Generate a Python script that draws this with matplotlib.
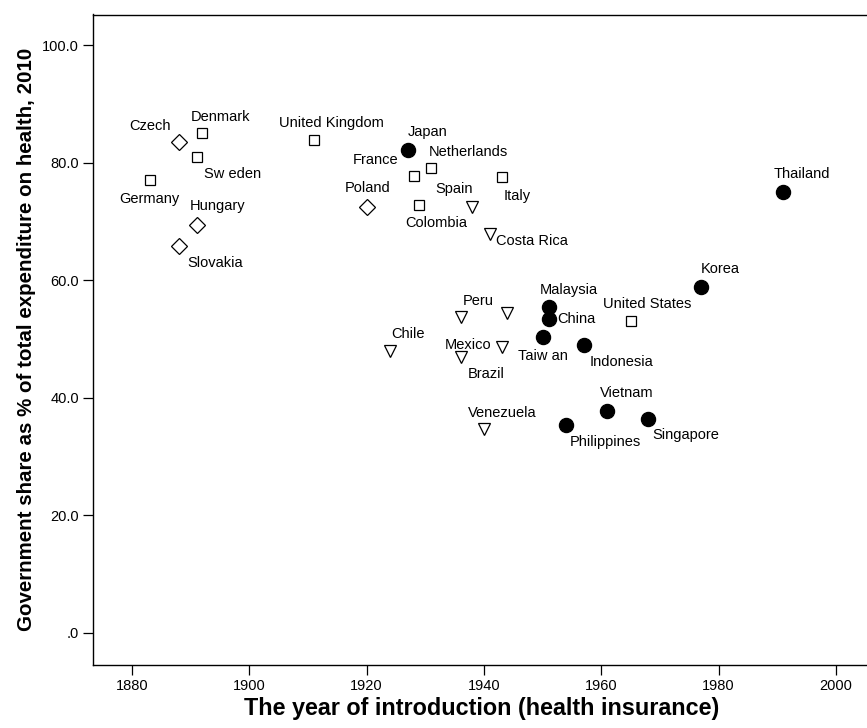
import matplotlib.pyplot as plt

plt.rcParams['font.family'] = ['Liberation Sans', 'DejaVu Sans']

# Year of introduction of health insurance and government share of health spending (2010)
asia_names = ['Japan', 'Malaysia', 'China', 'Taiw an', 'Indonesia', 'Korea',
              'Vietnam', 'Philippines', 'Singapore', 'Thailand']
asia_year = [1927, 1951, 1951, 1950, 1957, 1977, 1961, 1954, 1968, 1991]
asia_share = [82.2, 55.5, 53.4, 50.4, 49.0, 58.8, 37.8, 35.4, 36.4, 75.0]

west_names = ['Denmark', 'Sw eden', 'Germany', 'United Kingdom', 'Netherlands',
              'France', 'Italy', 'Colombia', 'United States']
west_year = [1892, 1891, 1883, 1911, 1931, 1928, 1943, 1929, 1965]
west_share = [85.0, 80.9, 77.1, 83.8, 79.1, 77.7, 77.5, 72.7, 53.0]

east_names = ['Czech', 'Hungary', 'Slovakia', 'Poland']
east_year = [1888, 1891, 1888, 1920]
east_share = [83.5, 69.3, 65.8, 72.5]

latin_names = ['Spain', 'Costa Rica', 'Peru', '', 'Chile', 'Brazil', 'Mexico', 'Venezuela']
latin_year = [1938, 1941, 1936, 1944, 1924, 1936, 1943, 1940]
latin_share = [72.5, 67.9, 53.7, 54.4, 47.9, 46.9, 48.6, 34.7]

xticks = [1880, 1900, 1920, 1940, 1960, 1980, 2000]
yticks = [0, 20, 40, 60, 80, 100]
ytick_labels = ['.0', '20.0', '40.0', '60.0', '80.0', '100.0']

# where each label sits relative to its marker (pixels, x right / y up)
label_offset = {
    'Czech': (-29, 16), 'Denmark': (18, 16), 'Sw eden': (36, -17),
    'Germany': (0, -19), 'Hungary': (21, 19), 'Slovakia': (36, -17),
    'United Kingdom': (18, 17), 'Japan': (20, 18), 'Netherlands': (37, 16),
    'France': (-38, 16), 'Italy': (16, -19), 'Poland': (1, 19),
    'Spain': (-18, 18), 'Colombia': (17, -18), 'Costa Rica': (42, -7),
    'Peru': (18, 16), 'Chile': (18, 17), 'Brazil': (26, -17),
    'Mexico': (-34, 2), 'Venezuela': (18, 16), 'Malaysia': (20, 17),
    'China': (28, 0), 'Taiw an': (0, -19), 'Indonesia': (38, -17),
    'United States': (17, 17), 'Korea': (19, 18), 'Vietnam': (20, 18),
    'Philippines': (39, -17), 'Singapore': (38, -16), 'Thailand': (19, 18),
}

fig = plt.figure(figsize=(8.67, 7.28), dpi=100)
ax = fig.add_axes([92.7 / 867, 63.3 / 728, (870 - 92.7) / 867, (664.7 - 14.5) / 728])

groups = [
    (asia_names, asia_year, asia_share, dict(marker='o', markersize=10.2, markerfacecolor='black')),
    (west_names, west_year, west_share, dict(marker='s', markersize=7.3, markerfacecolor='white')),
    (east_names, east_year, east_share, dict(marker='D', markersize=8.3, markerfacecolor='white')),
    (latin_names, latin_year, latin_share, dict(marker='v', markersize=8.2, markerfacecolor='white')),
]
for names, years, shares, style in groups:
    ax.plot(years, shares, linestyle='none', markeredgecolor='black',
            markeredgewidth=0.9, clip_on=False, **style)
    for n, x, y in zip(names, years, shares):
        if not n:
            continue
        ax.annotate(n, (x, y), xytext=label_offset[n], textcoords='offset pixels',
                    ha='center', va='center', fontsize=10.5)

ax.set_xlim(1873.3, 2005.8)
ax.set_ylim(-5.45, 105.2)
ax.set_xticks(xticks)
ax.set_yticks(yticks)
ax.set_yticklabels(ytick_labels)
ax.tick_params(direction='out', length=7, width=0.9, labelsize=10.5, pad=3)
for s in ax.spines.values():
    s.set_linewidth(1.0)

ax.set_xlabel('The year of introduction (health insurance)', fontsize=16.8,
              fontweight='bold', labelpad=3)
ax.set_ylabel('Government share as % of total expenditure on health, 2010', fontsize=14.8,
              fontweight='bold', labelpad=4)

fig.savefig('out.png', dpi=100)
